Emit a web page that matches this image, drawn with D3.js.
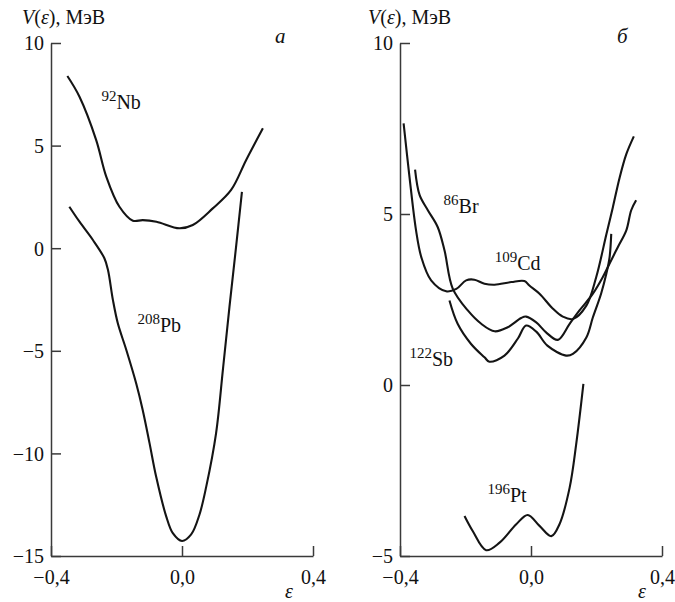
<!DOCTYPE html>
<html>
<head>
<meta charset="utf-8">
<script src="https://cdn.jsdelivr.net/npm/d3@7"></script>
<style>
  body { margin: 0; background: #fff; }
  text { font-family: "Liberation Serif", "Times New Roman", serif; fill: #111; }
</style>
</head>
<body>
<div id="chart"></div>
<script>
// panel a
const nbEps = [-0.350, -0.313, -0.262, -0.231, -0.191, -0.150, -0.120, -0.078, -0.008, 0.033, 0.094, 0.150, 0.196, 0.247];
const nbV   = [8.39, 7.38, 5.27, 3.48, 2.02, 1.34, 1.37, 1.29, 0.97, 1.13, 1.94, 2.84, 4.30, 5.84];

const pbEps = [-0.344, -0.313, -0.272, -0.237, -0.226, -0.211, -0.196, -0.170, -0.140, -0.120, -0.099, -0.079, -0.048, -0.028, 0.000, 0.028, 0.053, 0.074, 0.104, 0.125, 0.145, 0.165, 0.183];
const pbV   = [2.02, 1.29, 0.40, -0.49, -1.06, -2.52, -3.66, -4.96, -6.58, -7.88, -9.51, -11.13, -13.08, -13.89, -14.27, -13.95, -13.00, -11.62, -9.02, -5.90, -2.85, 0.05, 2.75];

// panel b
const cdEps = [-0.389, -0.371, -0.351, -0.335, -0.305, -0.259, -0.228, -0.198, -0.173, -0.142, -0.111, -0.060, -0.020, -0.005, 0.026, 0.067, 0.097, 0.128, 0.169, 0.199, 0.230, 0.250, 0.270, 0.291, 0.314];
const cdV   = [7.65, 6.08, 4.52, 3.74, 3.06, 2.74, 2.81, 3.06, 3.08, 2.96, 2.93, 3.01, 3.04, 2.91, 2.67, 2.23, 2.00, 1.93, 2.32, 3.15, 4.40, 5.20, 6.04, 6.75, 7.27];

const brEps = [-0.354, -0.340, -0.315, -0.285, -0.264, -0.239, -0.193, -0.152, -0.111, -0.071, -0.030, -0.015, 0.016, 0.046, 0.082, 0.118, 0.148, 0.189, 0.219, 0.240, 0.265, 0.291, 0.306, 0.321];
const brV   = [6.30, 5.55, 5.11, 4.62, 3.93, 2.82, 2.18, 1.79, 1.57, 1.69, 1.96, 2.00, 1.83, 1.54, 1.32, 1.79, 2.18, 2.67, 3.15, 3.55, 4.03, 4.52, 5.11, 5.40];

const sbEps = [-0.249, -0.224, -0.183, -0.142, -0.127, -0.081, -0.040, -0.015, 0.016, 0.050, 0.107, 0.128, 0.169, 0.189, 0.214, 0.230, 0.240, 0.245];
const sbV   = [2.47, 1.79, 1.20, 0.81, 0.68, 0.86, 1.36, 1.74, 1.56, 1.15, 0.86, 0.91, 1.39, 1.98, 2.67, 3.25, 3.74, 4.42];

const ptEps = [-0.203, -0.178, -0.137, -0.096, -0.045, -0.010, 0.026, 0.062, 0.087, 0.118, 0.138, 0.160];
const ptV   = [-3.83, -4.27, -4.83, -4.61, -4.07, -3.80, -4.12, -4.42, -4.07, -3.00, -1.73, 0.03];

const xTicks = [-0.4, 0.0, 0.4];
const yTicksA = [-15, -10, -5, 0, 5, 10];
const yTicksB = [-5, 0, 5, 10];

const zip = (xs, ys) => xs.map((x, i) => ({ e: x, v: ys[i] }));

const fmt = (d, digits) => {
  const s = Math.abs(d).toFixed(digits).replace(".", ",");
  return d < 0 ? "\u2212" + s : s;
};

const svg = d3.select("#chart").append("svg")
  .attr("width", 675)
  .attr("height", 602);

function drawPanel(opt) {
  const x = d3.scaleLinear().domain([-0.4, 0.4]).range([opt.left, opt.left + 262]);
  const y = d3.scaleLinear().domain(opt.yDomain).range([556, 43]);

  const yAxis = d3.axisLeft(y)
    .tickValues(opt.yTicks)
    .tickSizeInner(-10)
    .tickSizeOuter(0)
    .tickPadding(7)
    .tickFormat((d) => fmt(d, 0));

  const xAxis = d3.axisBottom(x)
    .tickValues(xTicks)
    .tickSizeInner(-10)
    .tickSizeOuter(0)
    .tickPadding(14)
    .tickFormat((d) => fmt(d, 1));

  const gy = svg.append("g")
    .attr("transform", `translate(${opt.left},0)`)
    .call(yAxis);
  const gx = svg.append("g")
    .attr("transform", `translate(0,556)`)
    .call(xAxis);

  [gx, gy].forEach((g) => {
    g.selectAll("path, line").attr("stroke", "#3a3a3a").attr("stroke-width", 1.5);
    g.selectAll("text")
      .style("font-family", '"Liberation Serif", serif')
      .style("font-size", "20px")
      .attr("fill", "#111");
  });
  gy.selectAll("text").attr("dy", "0.34em");

  const line = d3.line()
    .x((d) => x(d.e))
    .y((d) => y(d.v))
    .curve(d3.curveCatmullRom.alpha(0.5));

  opt.curves.forEach((c) => {
    svg.append("path")
      .datum(c.data)
      .attr("fill", "none")
      .attr("stroke", "#141414")
      .attr("stroke-width", 2.1)
      .attr("stroke-linejoin", "round")
      .attr("d", line);

    const t = svg.append("text")
      .attr("x", x(c.at[0]))
      .attr("y", y(c.at[1]))
      .style("font-size", "20px");
    t.append("tspan").attr("dy", -8).style("font-size", "15px").text(c.mass);
    t.append("tspan").attr("dy", 8).text(c.name);
  });

  // axis title
  const title = svg.append("text")
    .attr("x", opt.titleX)
    .attr("y", 24)
    .style("font-size", "20px");
  title.append("tspan").style("font-style", "italic").text("V");
  title.append("tspan").text("(");
  title.append("tspan").style("font-style", "italic").text("\u03b5");
  title.append("tspan").text("), МэВ");

  svg.append("text")
    .attr("x", opt.letterX)
    .attr("y", 43)
    .style("font-size", "21px")
    .style("font-style", "italic")
    .text(opt.letter);

  svg.append("text")
    .attr("x", opt.epsX)
    .attr("y", 598)
    .style("font-size", "20px")
    .style("font-style", "italic")
    .text("\u03b5");
}

drawPanel({
  left: 51,
  yDomain: [-15, 10],
  yTicks: yTicksA,
  titleX: 22,
  letterX: 275,
  letter: "а",
  epsX: 285,
  curves: [
    { data: zip(nbEps, nbV), mass: "92", name: "Nb", at: [-0.246, 6.78] },
    { data: zip(pbEps, pbV), mass: "208", name: "Pb", at: [-0.136, -4.08] }
  ]
});

drawPanel({
  left: 400,
  yDomain: [-5, 10],
  yTicks: yTicksB,
  titleX: 368,
  letterX: 617,
  letter: "б",
  epsX: 638,
  curves: [
    { data: zip(cdEps, cdV), mass: "109", name: "Cd", at: [-0.111, 3.35] },
    { data: zip(brEps, brV), mass: "86", name: "Br", at: [-0.267, 5.02] },
    { data: zip(sbEps, sbV), mass: "122", name: "Sb", at: [-0.371, 0.57] },
    { data: zip(ptEps, ptV), mass: "196", name: "Pt", at: [-0.133, -3.42] }
  ]
});
</script>
</body>
</html>
